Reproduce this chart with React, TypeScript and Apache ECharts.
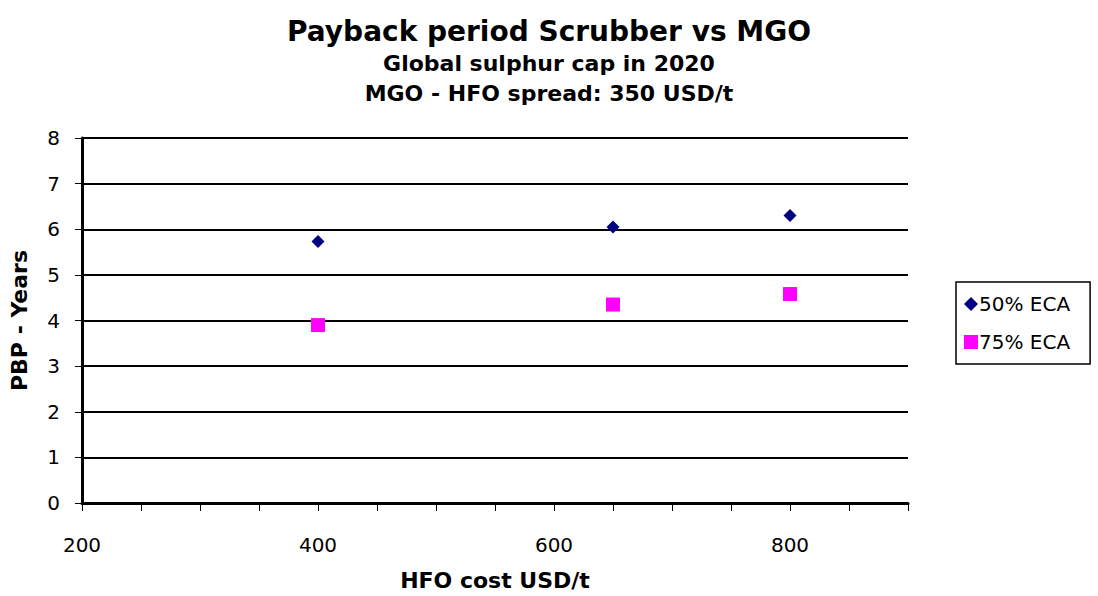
import React, { useEffect, useRef } from "react";
import * as echarts from "echarts";

const xTickLabels = [200, 400, 600, 800];
const hfoCost = [400, 650, 800];
const eca50 = [5.73, 6.05, 6.3];
const eca75 = [3.9, 4.35, 4.58];
const seriesNames = ["50% ECA", "75% ECA"];

export default function App() {
  const ref = useRef<HTMLDivElement>(null);
  useEffect(() => {
    const chart = echarts.init(ref.current!, null, { renderer: "svg" });
    const font = "'DejaVu Sans', Verdana, sans-serif";
    chart.setOption({
      animation: false,
      backgroundColor: "#ffffff",
      title: [
        {
          text: "Payback period Scrubber vs MGO",
          left: "center",
          top: 12,
          textStyle: { fontFamily: font, fontWeight: "bold", fontSize: 28, color: "#000" },
        },
        {
          text: "Global sulphur cap in 2020",
          left: "center",
          top: 47,
          textStyle: { fontFamily: font, fontWeight: "bold", fontSize: 22, color: "#000" },
        },
        {
          text: "MGO - HFO spread: 350 USD/t",
          left: "center",
          top: 77,
          textStyle: { fontFamily: font, fontWeight: "bold", fontSize: 22, color: "#000" },
        },
      ],
      legend: {
        orient: "vertical",
        left: 956,
        top: 282,
        padding: [12, 20, 12, 8],
        itemGap: 18,
        itemWidth: 14,
        itemHeight: 14,
        borderColor: "#000",
        borderWidth: 1.5,
        borderRadius: 0,
        textStyle: { fontFamily: font, fontSize: 20, color: "#000", padding: [0, 0, 0, -4] },
        data: [
          { name: seriesNames[0], icon: "diamond" },
          { name: seriesNames[1], icon: "rect" },
        ],
      },
      grid: { left: 80, right: 190, top: 138, bottom: 90 },
      xAxis: {
        type: "value",
        min: 200,
        max: 900,
        interval: 50,
        name: "HFO cost USD/t",
        nameLocation: "middle",
        nameGap: 66,
        nameTextStyle: { fontFamily: font, fontWeight: "bold", fontSize: 22, color: "#000" },
        axisLine: { show: true, lineStyle: { color: "#000", width: 3 } },
        axisTick: { show: true, length: 8, lineStyle: { color: "#000", width: 1 } },
        axisLabel: {
          fontFamily: font,
          fontSize: 20,
          color: "#000",
          margin: 32,
          formatter: (v: number) => (xTickLabels.includes(v) ? String(v) : ""),
        },
        splitLine: { show: false },
      },
      yAxis: {
        type: "value",
        min: 0,
        max: 8,
        interval: 1,
        name: "PBP - Years",
        nameLocation: "middle",
        nameGap: 52,
        nameTextStyle: { fontFamily: font, fontWeight: "bold", fontSize: 22, color: "#000" },
        axisLine: { show: true, lineStyle: { color: "#000", width: 3 } },
        axisTick: { show: true, length: 7, lineStyle: { color: "#000", width: 1 } },
        axisLabel: { fontFamily: font, fontSize: 20, color: "#000", margin: 22 },
        splitLine: { show: true, lineStyle: { color: "#000", width: 2 } },
      },
      series: [
        {
          name: seriesNames[0],
          type: "scatter",
          symbol: "diamond",
          symbolSize: 13,
          itemStyle: { color: "#000080", opacity: 1 },
          data: hfoCost.map((x, i) => [x, eca50[i]]),
        },
        {
          name: seriesNames[1],
          type: "scatter",
          symbol: "rect",
          symbolSize: 14,
          itemStyle: { color: "#ff00ff", opacity: 1 },
          data: hfoCost.map((x, i) => [x, eca75[i]]),
        },
      ],
    });
    return () => chart.dispose();
  }, []);
  return <div ref={ref} style={{ width: 1098, height: 596, position: "absolute", left: 0, top: 0 }} />;
}
